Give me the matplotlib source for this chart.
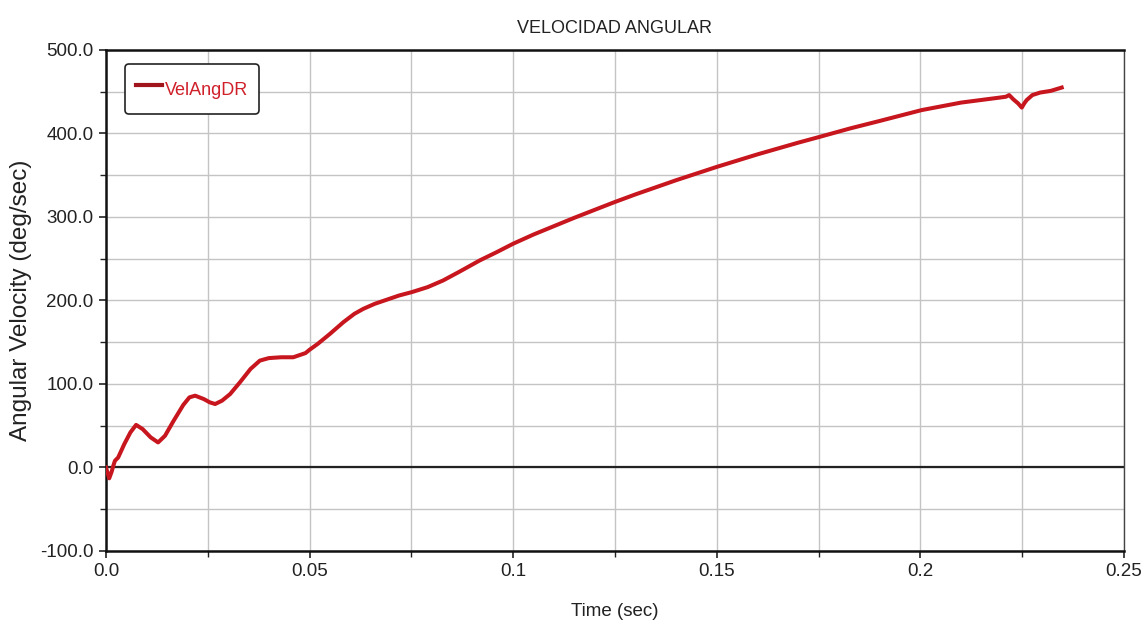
import matplotlib
matplotlib.use("Agg")
import matplotlib.pyplot as plt
from matplotlib.ticker import MultipleLocator, FormatStrFormatter

# Simulation output: angular velocity of the DR body over time
time_s = [0.0000, 0.0008, 0.0014, 0.0018, 0.0022, 0.0026, 0.0030, 0.0045, 0.0060,
          0.0074, 0.0090, 0.0110, 0.0128, 0.0145, 0.0165, 0.0190, 0.0205, 0.0219,
          0.0240, 0.0255, 0.0268, 0.0285, 0.0305, 0.0329, 0.0355, 0.0378, 0.0400,
          0.0430, 0.0460, 0.0490, 0.0500, 0.0520, 0.0550, 0.0583, 0.0610, 0.0632,
          0.0660, 0.0690, 0.0720, 0.0751, 0.0790, 0.0828, 0.0870, 0.0918, 0.0960,
          0.1000, 0.1050, 0.1100, 0.1150, 0.1213, 0.1250, 0.1300, 0.1400, 0.1500,
          0.1600, 0.1700, 0.1753, 0.1827, 0.1900, 0.2003, 0.2100, 0.2195, 0.2210,
          0.2218, 0.2228, 0.2240, 0.2249, 0.2255, 0.2261, 0.2275, 0.2294, 0.2320,
          0.2347]
vel_ang_dr = [0, -13, -5, 2, 8, 10, 12, 28, 42,
              51, 46, 36, 30, 38, 55, 75, 84, 86,
              82, 78, 76, 80, 88, 102, 118, 128, 131,
              132, 132, 137, 141, 148, 160, 174, 184, 190,
              196, 201, 206, 210, 216, 224, 235, 248, 258,
              268, 279, 289, 299, 311, 318, 327, 344, 360,
              375, 389, 396, 406, 415, 428, 437, 443, 444,
              446, 441, 436, 431, 436, 440, 446, 449, 451,
              455]

series_label = "VelAngDR"
chart_title = "VELOCIDAD ANGULAR"
x_label = "Time (sec)"
y_label = "Angular Velocity (deg/sec)"

narrow = ["Liberation Sans Narrow", "Liberation Sans", "DejaVu Sans"]
regular = ["Liberation Sans", "DejaVu Sans"]

fig = plt.figure(figsize=(11.48, 6.35), dpi=100)
ax = fig.add_axes([0.0923, 0.1323, 0.9791 - 0.0923, 0.9213 - 0.1323])

ax.set_xlim(0.0, 0.25)
ax.set_ylim(-100, 500)

ax.xaxis.set_major_locator(MultipleLocator(0.05))
ax.xaxis.set_minor_locator(MultipleLocator(0.025))
ax.yaxis.set_major_locator(MultipleLocator(100))
ax.yaxis.set_minor_locator(MultipleLocator(50))
ax.yaxis.set_major_formatter(FormatStrFormatter("%.1f"))

def xfmt(v, pos):
    if abs(v) < 1e-12:
        return "0.0"
    return ("%.3f" % v).rstrip("0").rstrip(".")
ax.xaxis.set_major_formatter(plt.FuncFormatter(xfmt))

ax.grid(True, which="both", color="#c4c4c4", linewidth=1.0)
ax.set_axisbelow(True)
ax.axhline(0, color="#222222", linewidth=1.6, zorder=2)

ax.tick_params(which="both", direction="out", color="#222222")
ax.tick_params(which="major", length=5, width=1.2, pad=4, labelsize=13.5, labelcolor="#222222")
ax.tick_params(which="minor", length=4, width=1.0)
for lab in ax.get_xticklabels() + ax.get_yticklabels():
    lab.set_fontfamily(narrow)

for side in ("left", "bottom", "top"):
    ax.spines[side].set_color("#111111")
    ax.spines[side].set_linewidth(1.8)
ax.spines["right"].set_color("#444444")
ax.spines["right"].set_linewidth(1.0)

ax.plot(time_s, vel_ang_dr, color="#c8161e", linewidth=2.9, label=series_label,
        solid_joinstyle="round", zorder=3)

leg = ax.legend(loc="upper left", bbox_to_anchor=(0.0187, 0.972), borderaxespad=0.0,
                frameon=True, fancybox=True, handlelength=1.45, handleheight=2.0,
                handletextpad=0.15, borderpad=0.6, prop={"family": narrow, "size": 13})
leg.get_frame().set_edgecolor("#222222")
leg.get_frame().set_linewidth(1.2)
leg.get_frame().set_alpha(1.0)
for txt in leg.get_texts():
    txt.set_color("#d0202a")
for h in leg.get_lines():
    h.set_color("#a0141c")
    h.set_linewidth(3)

ax.set_title(chart_title, fontsize=13, family=narrow, color="#222222", pad=12)
ax.set_xlabel(x_label, fontsize=13.5, family=narrow, color="#222222", labelpad=16)
ax.set_ylabel(y_label, fontsize=17.5, family=regular, color="#222222")
ax.yaxis.set_label_coords(-0.073, 0.5)

fig.savefig("out.png", dpi=100)
